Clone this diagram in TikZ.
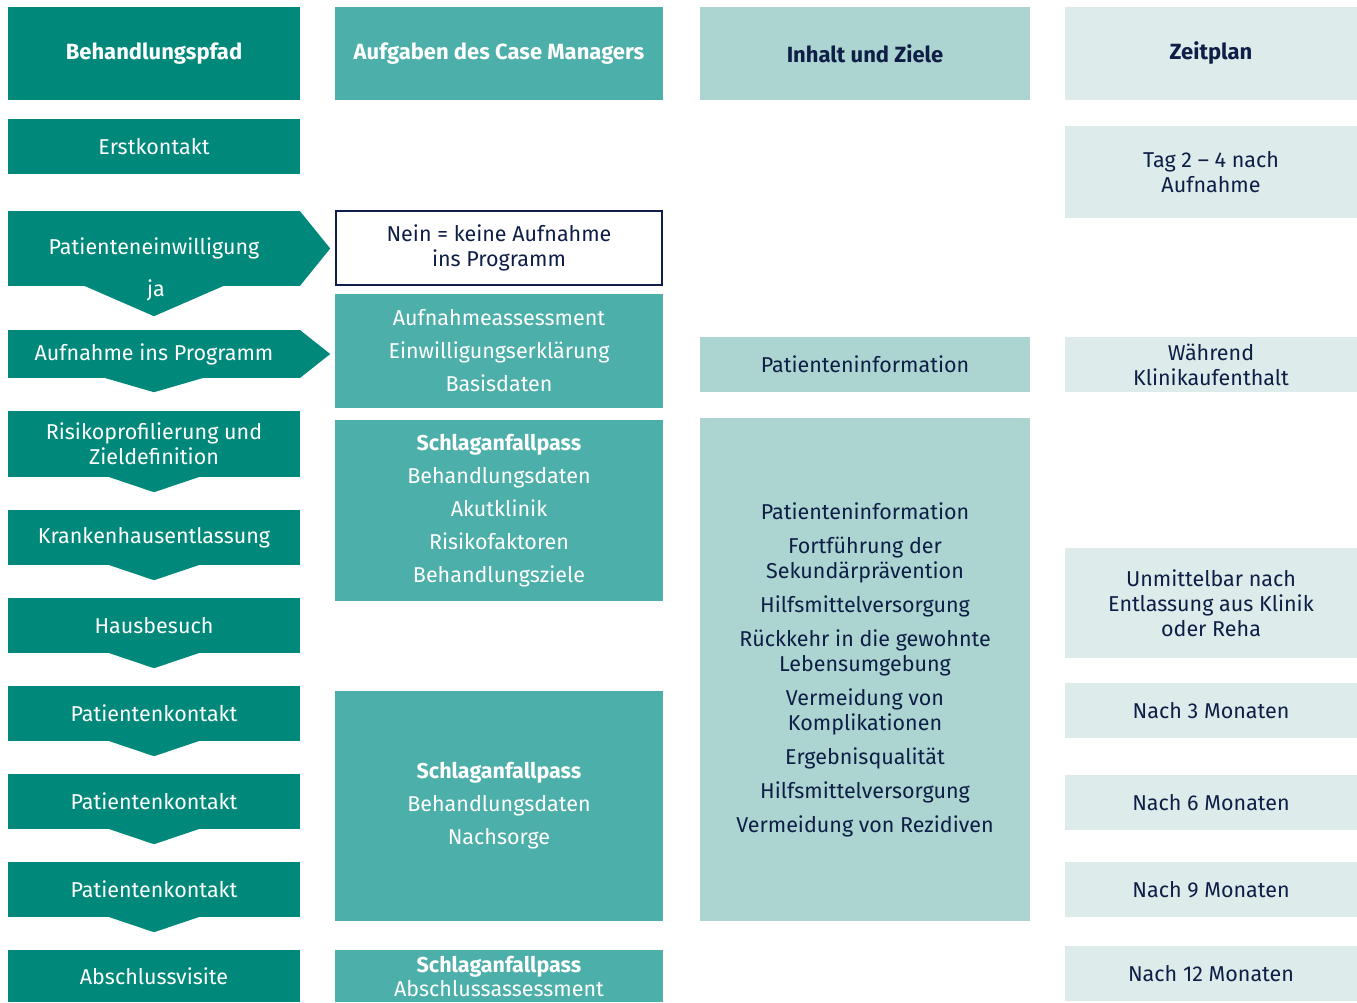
\documentclass[tikz,border=0pt]{standalone}
\usepackage{fontspec}
\setmainfont{Fira Sans}
\usetikzlibrary{calc}
\definecolor{pathteal}{HTML}{00897A}
\definecolor{taskteal}{HTML}{4DAFA9}
\definecolor{goalteal}{HTML}{ACD4D0}
\definecolor{timeteal}{HTML}{DDEBEA}
\definecolor{navy}{HTML}{0E1E46}
\tikzset{
  cell/.style={
    inner sep=0pt,
    align=center,
    font=\fontsize{21.5}{25}\selectfont
  },
  pathbox/.style={cell, fill=pathteal, text=white, minimum width=292pt},
  taskbox/.style={cell, fill=taskteal, text=white, minimum width=328pt},
  goalbox/.style={cell, fill=goalteal, text=navy, minimum width=330pt},
  timebox/.style={cell, fill=timeteal, text=navy, minimum width=292pt},
  headbox/.style={minimum height=93pt, font=\fontsize{22}{25}\selectfont\bfseries},
  refusebox/.style={cell, draw=navy, line width=2pt, fill=white, text=navy,
    minimum width=326pt, minimum height=74pt},
  steptip/.style={fill=pathteal}
}
% downward chevron under a step: node, half width, depth
\newcommand{\chevdown}[3]{%
  \fill[steptip] ($(#1.south)+(-#2,-0.5)$) -- ($(#1.south)+(0,#3)$)
    -- ($(#1.south)+(#2,-0.5)$) -- cycle;
}
% arrow tip to the right of a step
\newcommand{\tipright}[1]{%
  \fill[steptip] ($(#1.north east)+(-0.5,0)$) -- ($(#1.east)+(30,0)$)
    -- ($(#1.south east)+(-0.5,0)$) -- cycle;
}
\begin{document}
\begin{tikzpicture}[x=1pt,y=-1pt]
\useasboundingbox (0,0) rectangle (1357,1002);

% headers
\node[pathbox, headbox] (hpath) at (154,53.5) {Behandlungspfad};
\node[taskbox, headbox] (htask) at (499,53.5) {Aufgaben des Case Managers};
\node[goalbox, headbox] (hgoal) at (865,53.5) {Inhalt und Ziele};
\node[timebox, headbox] (htime) at (1211,53.5) {Zeitplan};

% Behandlungspfad
\node[pathbox, minimum height=55pt] (erst) at (154,146.5) {Erstkontakt};
\node[pathbox, minimum height=75pt] (einw) at (154,248.5) {Patienteneinwilligung};
\node[pathbox, minimum height=48pt] (aufn) at (154,354) {Aufnahme ins Programm};
\node[pathbox, minimum height=66pt] (risk) at (154,444) {Risikoprofilierung und\\Zieldefinition};
\node[pathbox, minimum height=55pt] (entl) at (154,537.5) {Krankenhausentlassung};
\node[pathbox, minimum height=55pt] (haus) at (154,625.5) {Hausbesuch};
\node[pathbox, minimum height=55pt] (pk1) at (154,713.5) {Patientenkontakt};
\node[pathbox, minimum height=55pt] (pk2) at (154,801.5) {Patientenkontakt};
\node[pathbox, minimum height=55pt] (pk3) at (154,889.5) {Patientenkontakt};
\node[pathbox, minimum height=52pt] (absch) at (154,976) {Abschlussvisite};

\chevdown{einw}{70}{30}
\chevdown{aufn}{50}{14}
\chevdown{risk}{46}{15}
\chevdown{entl}{46}{15}
\chevdown{haus}{46}{15}
\chevdown{pk1}{46}{15}
\chevdown{pk2}{46}{15}
\chevdown{pk3}{46}{15}
\tipright{einw}
\tipright{aufn}
\node[cell, text=white] (ja) at (156,290) {ja};

% Aufgaben des Case Managers
\node[refusebox] (nein) at (499,248) {Nein = keine Aufnahme\\ins Programm};
\node[taskbox, minimum height=114pt] (assess) at (499,351)
  {Aufnahmeassessment\\[8pt]Einwilligungserklärung\\[8pt]Basisdaten};
\node[taskbox, minimum height=181pt] (pass1) at (499,510.5)
  {\textbf{Schlaganfallpass}\\[8pt]Behandlungsdaten\\[8pt]Akutklinik\\[8pt]Risikofaktoren\\[8pt]Behandlungsziele};
\node[taskbox, minimum height=230pt] (pass2) at (499,806)
  {\textbf{Schlaganfallpass}\\[8pt]Behandlungsdaten\\[8pt]Nachsorge};
\node[taskbox, minimum height=52pt] (pass3) at (499,976)
  {\textbf{Schlaganfallpass}\\[-1pt]Abschlussassessment};

% Inhalt und Ziele
\node[goalbox, minimum height=55pt] (pinfo) at (865,364.5) {Patienteninformation};
\node[goalbox, minimum height=503pt] (goals) at (865,669.5)
  {Patienteninformation\\[9pt]Fortführung der\\Sekundärprävention\\[9pt]Hilfsmittelversorgung\\[9pt]%
   Rückkehr in die gewohnte\\Lebensumgebung\\[9pt]Vermeidung von\\Komplikationen\\[9pt]%
   Ergebnisqualität\\[9pt]Hilfsmittelversorgung\\[9pt]Vermeidung von Rezidiven};

% Zeitplan
\node[timebox, minimum height=92pt] (tag) at (1211,172) {Tag 2 – 4 nach\\Aufnahme};
\node[timebox, minimum height=55pt] (klinik) at (1211,364.5) {Während\\Klinikaufenthalt};
\node[timebox, minimum height=110pt] (sofort) at (1211,603) {Unmittelbar nach\\Entlassung aus Klinik\\oder Reha};
\node[timebox, minimum height=55pt] (m3) at (1211,710.5) {Nach 3 Monaten};
\node[timebox, minimum height=55pt] (m6) at (1211,802.5) {Nach 6 Monaten};
\node[timebox, minimum height=55pt] (m9) at (1211,889.5) {Nach 9 Monaten};
\node[timebox, minimum height=55pt] (m12) at (1211,973.5) {Nach 12 Monaten};

\end{tikzpicture}
\end{document}
